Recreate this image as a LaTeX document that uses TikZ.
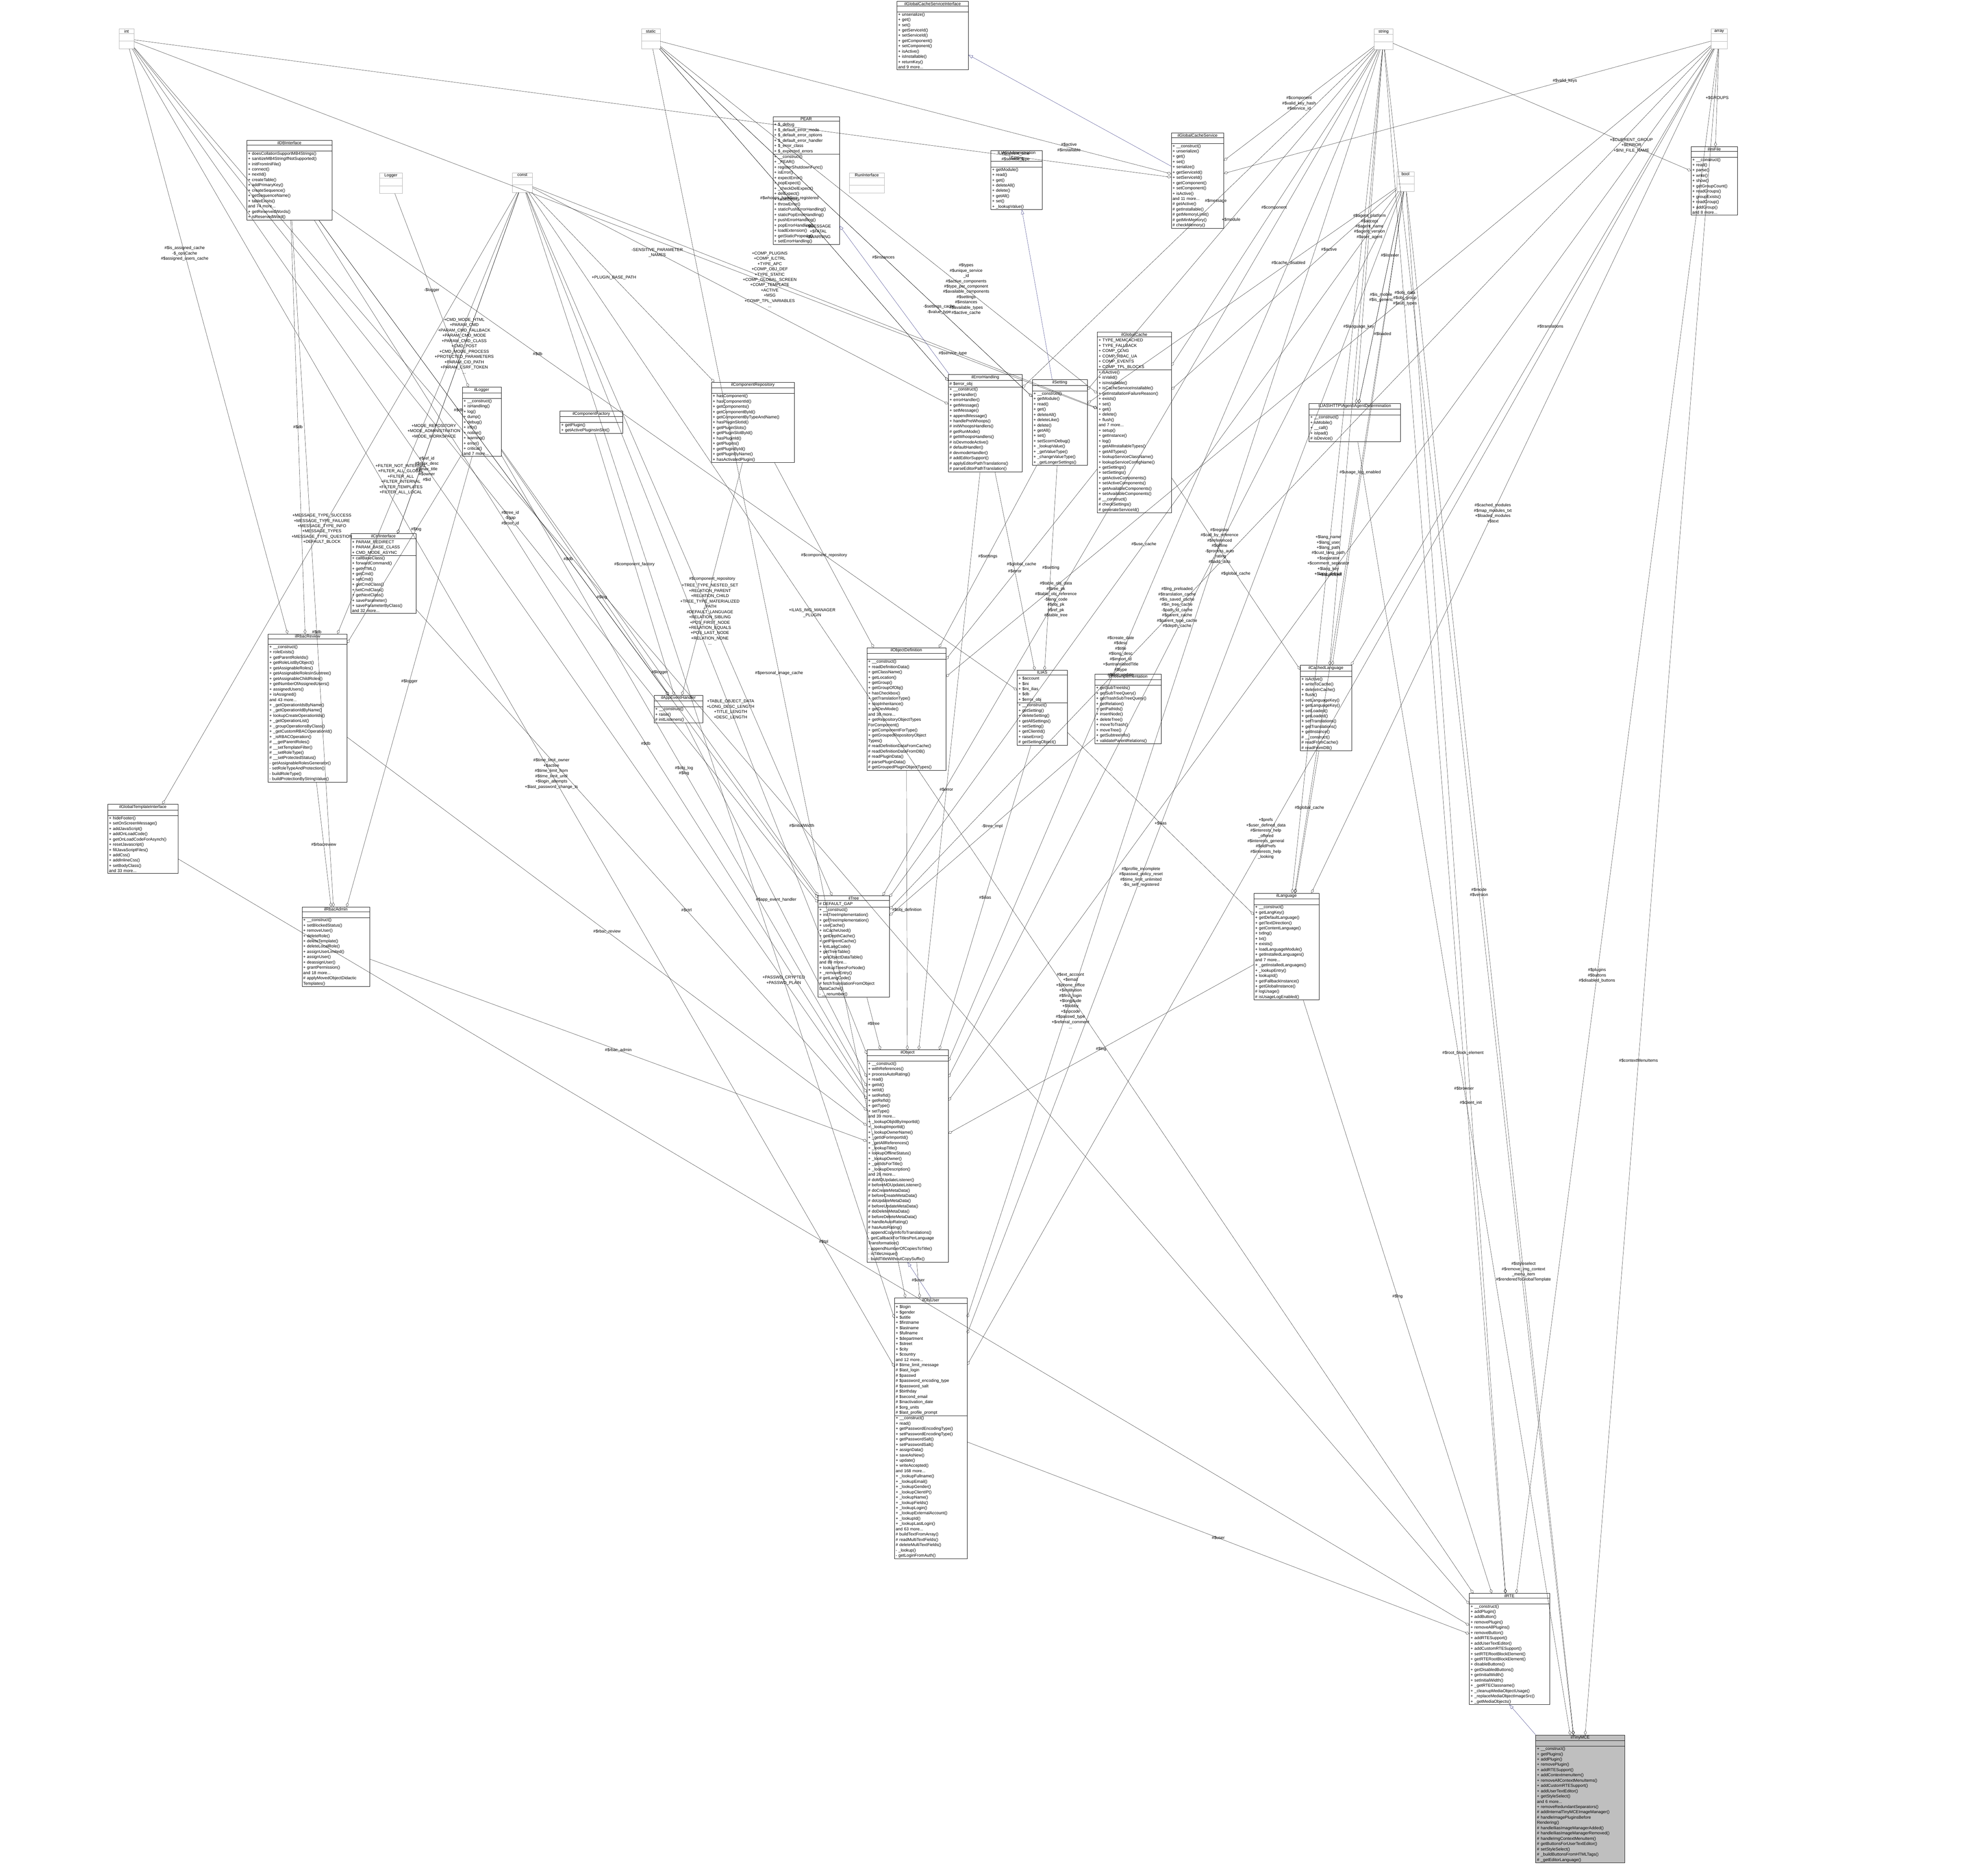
\documentclass[tikz,border=0pt]{standalone}
\usepackage{fontspec}
\setmainfont{Liberation Sans}
\usetikzlibrary{shapes.multipart,arrows.meta}

% one class box: name, x, y, width, title, attributes, methods
\newcommand{\umlclass}[7][]{%
  \node[umlbox,text width=#4 mm-2mm,#1] (#2) at (#3) {\centering #5\par
    \nodepart{two}\rule{0pt}{3.2mm}#6
    \nodepart{three}#7};}
\newcommand{\primbox}[3]{%
  \node[primbox,text width=#3 mm-1mm] (#1) at (#2) {\centering #1\par
    \nodepart{two}\rule{0pt}{5mm}\nodepart{three}\rule{0pt}{5mm}};}

\begin{document}
\begin{tikzpicture}[x=1mm,y=-1mm,font=\fontsize{9.5}{12}\selectfont,
  umlbox/.style={rectangle split,rectangle split parts=3,draw,fill=white,anchor=north west,
    align=left,inner xsep=1mm,inner ysep=0.6mm,line width=0.5pt},
  primbox/.style={rectangle split,rectangle split parts=3,draw=gray!60,fill=white,anchor=north west,
    align=left,inner xsep=0.5mm,inner ysep=0.5mm},
  agg/.style={-{Diamond[open,length=3.5mm,width=2.2mm]},line width=0.4pt},
  inh/.style={-{Triangle[open,length=3.5mm,width=2.5mm]},draw={rgb,255:red,25;green,25;blue,112},line width=0.4pt},
  lbl/.style={align=center,inner sep=0.5pt}]
\useasboundingbox (0,0) rectangle (1568,1497.7);

%primitive types
\primbox{int}{95,23}{12}
\primbox{static}{512,23}{15}
\primbox{string}{1097,23}{15}
\primbox{array}{1366,23}{13}
\primbox{bool}{1115,137}{14}
\primbox{const}{409,138}{16}
\primbox{Logger}{303,138}{18}
\primbox{RunInterface}{678,138}{28}

%top
\umlclass{cacheif}{716,1}{57}{ilGlobalCacheServiceInterface}{}{+ unserialize()\\+ get()\\+ set()\\+ getServiceId()\\+ setServiceId()\\+ getComponent()\\+ setComponent()\\+ isActive()\\+ isInstallable()\\+ returnKey()\\and 9 more...}
\umlclass{dbif}{197,112}{68}{ilDBInterface}{}{+ doesCollationSupportMB4Strings()\\+ sanitizeMB4StringIfNotSupported()\\+ initFromIniFile()\\+ connect()\\+ nextId()\\+ createTable()\\+ addPrimaryKey()\\+ createSequence()\\+ getSequenceName()\\+ tableExists()\\and 74 more...\\+ getReservedWords()\\+ isReservedWord()}
\umlclass{pear}{617,93}{53}{PEAR}{+ \$\_debug\\+ \$\_default\_error\_mode\\+ \$\_default\_error\_options\\+ \$\_default\_error\_handler\\+ \$\_error\_class\\+ \$\_expected\_errors}{+ \_\_construct()\\+ \_PEAR()\\+ registerShutdownFunc()\\+ isError()\\+ expectError()\\+ popExpect()\\+ \_checkDelExpect()\\+ delExpect()\\+ raiseError()\\+ throwError()\\+ staticPushErrorHandling()\\+ staticPopErrorHandling()\\+ pushErrorHandling()\\+ popErrorHandling()\\+ loadExtension()\\+ getStaticProperty()\\+ setErrorHandling()}
\umlclass{cachesrv}{935,106}{42}{ilGlobalCacheService}{}{+ \_\_construct()\\+ unserialize()\\+ get()\\+ set()\\+ serialize()\\+ getServiceId()\\+ setServiceId()\\+ getComponent()\\+ setComponent()\\+ isActive()\\and 11 more...\\\# getActive()\\\# getInstallable()\\\# getMemoryLimit()\\\# getMinMemory()\\\# checkMemory()}
\umlclass{admsetting}{791,120}{41}{ILIAS\textbackslash Administration\\\textbackslash Setting}{}{+ getModule()\\+ read()\\+ get()\\+ deleteAll()\\+ delete()\\+ getAll()\\+ set()\\+ \_lookupValue()}
\umlclass{inifile}{1350,117}{37}{ilIniFile}{}{+ \_\_construct()\\+ read()\\+ parse()\\+ write()\\+ show()\\+ getGroupCount()\\+ readGroups()\\+ groupExists()\\+ readGroup()\\+ addGroup()\\and 8 more...}

%second row
\umlclass{logger}{369,309}{31}{ilLogger}{}{+ \_\_construct()\\+ isHandling()\\+ log()\\+ dump()\\+ debug()\\+ info()\\+ notice()\\+ warning()\\+ error()\\+ critical()\\and 7 more...}
\umlclass{compfactory}{447,328}{50}{ilComponentFactory}{}{+ getPlugin()\\+ getActivePluginsInSlot()}
\umlclass{comprepo}{568,305}{66}{ilComponentRepository}{}{+ hasComponent()\\+ hasComponentId()\\+ getComponents()\\+ getComponentById()\\+ getComponentByTypeAndName()\\+ hasPluginSlotId()\\+ getPluginSlots()\\+ getPluginSlotById()\\+ hasPluginId()\\+ getPlugins()\\+ getPluginById()\\+ getPluginByName()\\+ hasActivatedPlugin()}
\umlclass{errhandling}{757,299}{59}{ilErrorHandling}{\# \$error\_obj}{+ \_\_construct()\\+ getHandler()\\+ errorHandler()\\+ getMessage()\\+ setMessage()\\+ appendMessage()\\+ handlePreWhoops()\\\# initWhoopsHandlers()\\\# getRunMode()\\\# getWhoopsHandlers()\\\# isDevmodeActive()\\\# defaultHandler()\\\# devmodeHandler()\\\# addEditorSupport()\\\# applyEditorPathTranslations()\\\# parseEditorPathTranslation()}
\umlclass{setting}{824,303}{44}{ilSetting}{}{+ \_\_construct()\\+ getModule()\\+ read()\\+ get()\\+ deleteAll()\\+ deleteLike()\\+ delete()\\+ getAll()\\+ set()\\+ setScormDebug()\\+ \_lookupValue()\\+ \_getValueType()\\+ \_changeValueType()\\+ \_getLongerSettings()}
\umlclass{globalcache}{876,265}{59}{ilGlobalCache}{+ TYPE\_MEMCACHED\\+ TYPE\_FALLBACK\\+ COMP\_CLNG\\+ COMP\_RBAC\_UA\\+ COMP\_EVENTS\\+ COMP\_TPL\_BLOCKS}{+ isActive()\\+ isValid()\\+ isInstallable()\\+ isCacheServiceInstallable()\\+ getInstallationFailureReason()\\+ exists()\\+ set()\\+ get()\\+ delete()\\+ flush()\\and 7 more...\\+ setup()\\+ getInstance()\\+ log()\\+ getAllInstallableTypes()\\+ getAllTypes()\\+ lookupServiceClassName()\\+ lookupServiceConfigName()\\+ getSettings()\\+ setSettings()\\+ getActiveComponents()\\+ setActiveComponents()\\+ getAvailableComponents()\\+ setAvailableComponents()\\\# \_\_construct()\\\# checkSettings()\\\# generateServiceId()}
\umlclass{agentdet}{1045,322}{73}{ILIAS\textbackslash HTTP\textbackslash Agent\textbackslash AgentDetermination}{}{+ \_\_construct()\\+ isMobile()\\+ \_\_call()\\+ isIpad()\\\# isDevice()}

%middle
\umlclass{ctrlif}{280,426}{52}{ilCtrlInterface}{+ PARAM\_REDIRECT\\+ PARAM\_BASE\_CLASS\\+ CMD\_MODE\_ASYNC}{+ callBaseClass()\\+ forwardCommand()\\+ getHTML()\\+ getCmd()\\+ setCmd()\\+ getCmdClass()\\+ setCmdClass()\\+ getNextClass()\\+ saveParameter()\\+ saveParameterByClass()\\and 32 more...}
\umlclass{rbacreview}{214,506}{63}{ilRbacReview}{}{+ \_\_construct()\\+ roleExists()\\+ getParentRoleIds()\\+ getRoleListByObject()\\+ getAssignableRoles()\\+ getAssignableRolesInSubtree()\\+ getAssignableChildRoles()\\+ getNumberOfAssignedUsers()\\+ assignedUsers()\\+ isAssigned()\\and 43 more...\\+ \_getOperationIdsByName()\\+ \_getOperationIdByName()\\+ lookupCreateOperationIds()\\+ \_getOperationList()\\+ \_groupOperationsByClass()\\+ \_getCustomRBACOperationId()\\+ \_isRBACOperation()\\\# \_\_getParentRoles()\\\# \_\_setTemplateFilter()\\\# \_\_setRoleType()\\\# \_\_setProtectedStatus()\\- getAssignableRolesGenerator()\\- setRoleTypeAndProtection()\\- buildRoleType()\\- buildProtectionByStringValue()}
\umlclass{tplif}{86,642}{56}{ilGlobalTemplateInterface}{}{+ hideFooter()\\+ setOnScreenMessage()\\+ addJavaScript()\\+ addOnLoadCode()\\+ getOnLoadCodeForAsynch()\\+ resetJavascript()\\+ fillJavaScriptFiles()\\+ addCss()\\+ addInlineCss()\\+ setBodyClass()\\and 33 more...}
\umlclass{rbacadmin}{241,724}{54}{ilRbacAdmin}{}{+ \_\_construct()\\+ setBlockedStatus()\\+ removeUser()\\+ deleteRole()\\+ deleteTemplate()\\+ deleteLocalRole()\\+ assignUserLimited()\\+ assignUser()\\+ deassignUser()\\+ grantPermission()\\and 18 more...\\\# applyMovedObjectDidactic\\Templates()}
\umlclass{eventhandler}{522,555}{39}{ilAppEventHandler}{}{+ \_\_construct()\\+ raise()\\\# initListeners()}
\umlclass{objdef}{692,517}{63}{ilObjectDefinition}{}{+ \_\_construct()\\+ readDefinitionData()\\+ getClassName()\\+ getLocation()\\+ getGroup()\\+ getGroupOfObj()\\+ hasCheckbox()\\+ getTranslationType()\\+ stopInheritance()\\+ getDevMode()\\and 38 more...\\+ getRepositoryObjectTypes\\ForComponent()\\+ getComponentForType()\\+ getGroupedRepositoryObject\\Types()\\\# readDefinitionDataFromCache()\\\# readDefinitionDataFromDB()\\\# readPluginData()\\\# parsePluginData()\\\# getGroupedPluginObjectTypes()}
\umlclass{ilias}{812,535}{40}{ILIAS}{+ \$account\\+ \$ini\\+ \$ini\_ilias\\+ \$db\\+ \$error\_obj}{+ \_\_construct()\\+ getSetting()\\+ deleteSetting()\\+ getAllSettings()\\+ setSetting()\\+ getClientId()\\+ raiseError()\\\# getSettingObject()}
\umlclass{treeimpl}{874,538}{53}{ilTreeImplementation}{}{+ getSubTreeIds()\\+ getSubTreeQuery()\\+ getTrashSubTreeQuery()\\+ getRelation()\\+ getPathIds()\\+ insertNode()\\+ deleteTree()\\+ moveToTrash()\\+ moveTree()\\+ getSubtreeInfo()\\+ validateParentRelations()}
\umlclass{cachedlang}{1038,531}{41}{ilCachedLanguage}{}{+ isActive()\\+ writeToCache()\\+ deleteInCache()\\+ flush()\\+ setLanguageKey()\\+ getLanguageKey()\\+ setLoaded()\\+ getLoaded()\\+ setTranslations()\\+ getTranslations()\\+ getInstance()\\\# \_\_construct()\\\# readFromCache()\\\# readFromDB()}
\umlclass{tree}{653,715}{57}{ilTree}{\# DEFAULT\_GAP}{+ \_\_construct()\\+ initTreeImplementation()\\+ getTreeImplementation()\\+ useCache()\\+ isCacheUsed()\\+ getDepthCache()\\+ getParentCache()\\+ initLangCode()\\+ getTreeTable()\\+ getObjectDataTable()\\and 89 more...\\+ lookupTreesForNode()\\+ \_removeEntry()\\\# getLangCode()\\\# fetchTranslationFromObject\\DataCache()\\- \_\_renumber()}
\umlclass{language}{1001,713}{52}{ilLanguage}{}{+ \_\_construct()\\+ getLangKey()\\+ getDefaultLanguage()\\+ getTextDirection()\\+ getContentLanguage()\\+ txtlng()\\+ txt()\\+ exists()\\+ loadLanguageModule()\\+ getInstalledLanguages()\\and 7 more...\\+ \_getInstalledLanguages()\\+ \_lookupEntry()\\+ lookupId()\\+ getFallbackInstance()\\+ getGlobalInstance()\\\# logUsage()\\\# isUsageLogEnabled()}

%bottom
\umlclass{object}{692,838}{65}{ilObject}{}{+ \_\_construct()\\+ withReferences()\\+ processAutoRating()\\+ read()\\+ getId()\\+ setId()\\+ setRefId()\\+ getRefId()\\+ getType()\\+ setType()\\and 39 more...\\+ \_lookupObjIdByImportId()\\+ \_lookupImportId()\\+ \_lookupOwnerName()\\+ \_getIdForImportId()\\+ \_getAllReferences()\\+ \_lookupTitle()\\+ lookupOfflineStatus()\\+ \_lookupOwner()\\+ \_getIdsForTitle()\\+ \_lookupDescription()\\and 26 more...\\\# doMDUpdateListener()\\\# beforeMDUpdateListener()\\\# doCreateMetaData()\\\# beforeCreateMetaData()\\\# doUpdateMetaData()\\\# beforeUpdateMetaData()\\\# doDeleteMetaData()\\\# beforeDeleteMetaData()\\\# handleAutoRating()\\\# hasAutoRating()\\- appendCopyInfoToTranslations()\\- getCallbackForTitlesPerLanguage\\Transformation()\\- appendNumberOfCopiesToTitle()\\- isTitleUnique()\\- buildTitleWithoutCopySuffix()}
\umlclass{objuser}{714,1036}{58}{ilObjUser}{+ \$login\\+ \$gender\\+ \$utitle\\+ \$firstname\\+ \$lastname\\+ \$fullname\\+ \$department\\+ \$street\\+ \$city\\+ \$country\\and 12 more...\\\# \$time\_limit\_message\\\# \$last\_login\\\# \$passwd\\\# \$password\_encoding\_type\\\# \$password\_salt\\\# \$birthday\\\# \$second\_email\\\# \$inactivation\_date\\\# \$org\_units\\\# \$last\_profile\_prompt}{+ \_\_construct()\\+ read()\\+ getPasswordEncodingType()\\+ setPasswordEncodingType()\\+ getPasswordSalt()\\+ setPasswordSalt()\\+ assignData()\\+ saveAsNew()\\+ update()\\+ writeAccepted()\\and 168 more...\\+ \_lookupFullname()\\+ \_lookupEmail()\\+ \_lookupGender()\\+ \_lookupClientIP()\\+ \_lookupName()\\+ \_lookupFields()\\+ \_lookupLogin()\\+ \_lookupExternalAccount()\\+ \_lookupId()\\+ \_lookupLastLogin()\\and 63 more...\\\# buildTextFromArray()\\\# readMultiTextFields()\\\# deleteMultiTextFields()\\- \_lookup()\\- getLoginFromAuth()}
\umlclass{rte}{1173,1272}{64}{ilRTE}{}{+ \_\_construct()\\+ addPlugin()\\+ addButton()\\+ removePlugin()\\+ removeAllPlugins()\\+ removeButton()\\+ addRTESupport()\\+ addUserTextEditor()\\+ addCustomRTESupport()\\+ setRTERootBlockElement()\\+ getRTERootBlockElement()\\+ disableButtons()\\+ getDisabledButtons()\\+ getInitialWidth()\\+ setInitialWidth()\\+ \_getRTEClassname()\\+ \_cleanupMediaObjectUsage()\\+ \_replaceMediaObjectImageSrc()\\+ \_getMediaObjects()}
\umlclass[fill=gray!50]{tinymce}{1226,1385}{71}{ilTinyMCE}{}{+ \_\_construct()\\+ getPlugins()\\+ addPlugin()\\+ removePlugin()\\+ addRTESupport()\\+ addContextmenuItem()\\+ removeAllContextMenuItems()\\+ addCustomRTESupport()\\+ addUserTextEditor()\\+ getStyleSelect()\\and 6 more...\\+ removeRedundantSeparators()\\\# addInternalTinyMCEImageManager()\\\# handleImagePluginsBefore\\Rendering()\\\# handleIliasImageManagerAdded()\\\# handleIliasImageManagerRemoved()\\\# handleImgContextMenuItem()\\\# getButtonsForUserTextEditor()\\\# setStyleSelect()\\\# \_buildButtonsFromHTMLTags()\\\# \_getEditorLanguage()}

%inheritance
\draw[inh] (cachesrv) -- (cacheif);
\draw[inh] (errhandling) -- (pear);
\draw[inh] (setting) -- (admsetting);
\draw[inh] (objuser.north) -- (object.south);
\draw[inh] (tinymce.north west) -- (rte.south);

%usage
\begin{scope}[every path/.style={agg}]
\draw (int) -- node[lbl,pos=0.85]{\#\$current\_time\\\#\$service\_type} (cachesrv);
\draw (static) -- node[lbl,pos=0.8]{\#\$active\\\#\$installable} (cachesrv);
\draw (string) -- node[lbl,pos=0.5]{\#\$component\\\#\$valid\_key\_hash\\\#\$service\_id} (cachesrv);
\draw (array) -- node[lbl,pos=0.3]{\#\$valid\_keys} (cachesrv);
\draw (array) -- node[lbl]{+\$GROUPS} (inifile);
\draw (string) -- node[lbl,pos=0.8]{+\$CURRENT\_GROUP\\+\$ERROR\\+\$INI\_FILE\_NAME} (inifile);
\draw (static) -- node[lbl,pos=0.55]{+\$MESSAGE\\+\$FATAL\\+\$WARNING} (errhandling);
\draw (static) -- node[lbl,pos=0.45]{\#\$whoops\_handlers\_registered} (errhandling);
\draw (string) -- node[lbl,pos=0.45]{\#\$message} (errhandling);
\draw (string) -- node[lbl,pos=0.5]{+\$module} (setting);
\draw (string) -- node[lbl,pos=0.5]{\#\$component} (globalcache);
\draw (static) -- node[lbl,pos=0.7]{\#\$types\\\#\$unique\_service\\\_id\\\#\$active\_components\\\#\$type\_per\_component\\\#\$available\_components\\\#\$settings\\\#\$instances\\\#\$available\_types\\\#\$active\_cache} (globalcache);
\draw (int) -- node[lbl,pos=0.85]{\#\$service\_type} (globalcache);
\draw (static) -- node[lbl,pos=0.75]{-\$settings\_cache\\-\$value\_type} (setting);
\draw (bool) -- node[lbl,pos=0.3]{\#\$active} (globalcache);
\draw (bool) -- node[lbl,pos=0.35]{\#\$cache\_disabled} (setting);
\draw (bool) -- node[lbl,pos=0.5]{\#\$is\_mobile\\\#\$is\_generic} (agentdet);
\draw (string) -- node[lbl,pos=0.5]{\#\$agent\_platform\\\#\$accept\\\#\$agent\_name\\\#\$agent\_version\\\#\$user\_agent} (agentdet);
\draw (const) -- node[lbl,pos=0.45]{+CMD\_MODE\_HTML\\+PARAM\_CMD\\+PARAM\_CMD\_FALLBACK\\+PARAM\_CMD\_MODE\\+PARAM\_CMD\_CLASS\\+CMD\_POST\\+CMD\_MODE\_PROCESS\\+PROTECTED\_PARAMETERS\\+PARAM\_CID\_PATH\\+PARAM\_CSRF\_TOKEN\\...} (ctrlif);
\draw (Logger) -- node[lbl,pos=0.5]{-\$logger} (logger);
\draw (const) -- node[lbl,pos=0.45]{+PLUGIN\_BASE\_PATH} (comprepo);
\draw (const) -- node[lbl,pos=0.3]{-SENSITIVE\_PARAMETER\\\_NAMES} (errhandling);
\draw (const) -- node[lbl,pos=0.42]{+COMP\_PLUGINS\\+COMP\_ILCTRL\\+TYPE\_APC\\+COMP\_OBJ\_DEF\\+TYPE\_STATIC\\+COMP\_GLOBAL\_SCREEN\\+COMP\_TEMPLATE\\+ACTIVE\\+MSG\\+COMP\_TPL\_VARIABLES\\...} (globalcache);
\draw (const) -- node[lbl,pos=0.55]{+MESSAGE\_TYPE\_SUCCESS\\+MESSAGE\_TYPE\_FAILURE\\+MESSAGE\_TYPE\_INFO\\+MESSAGE\_TYPES\\+MESSAGE\_TYPE\_QUESTION\\+DEFAULT\_BLOCK} (tplif);
\draw (const) -- node[lbl,pos=0.65]{+FILTER\_NOT\_INTERNAL\\+FILTER\_ALL\_GLOBAL\\+FILTER\_ALL\\+FILTER\_INTERNAL\\+FILTER\_TEMPLATES\\+FILTER\_ALL\_LOCAL} (rbacreview);
\draw (const) -- node[lbl,pos=0.7]{+MODE\_REPOSITORY\\+MODE\_ADMINISTRATION\\+MODE\_WORKSPACE} (ctrlif);
\draw (const) -- node[lbl,pos=0.6]{+TREE\_TYPE\_NESTED\_SET\\+RELATION\_PARENT\\+RELATION\_CHILD\\+TREE\_TYPE\_MATERIALIZED\\\_PATH\\\#DEFAULT\_LANGUAGE\\+RELATION\_SIBLING\\+POS\_FIRST\_NODE\\+RELATION\_EQUALS\\+POS\_LAST\_NODE\\+RELATION\_NONE\\...} (tree);
\draw (const) -- node[lbl,pos=0.6]{+TABLE\_OBJECT\_DATA\\+LONG\_DESC\_LENGTH\\+TITLE\_LENGTH\\+DESC\_LENGTH} (object);
\draw (const) -- node[lbl,pos=0.7]{+PASSWD\_CRYPTED\\+PASSWD\_PLAIN} (objuser);
\draw (const) -- node[lbl,pos=0.3]{+ILIAS\_IMG\_MANAGER\\\_PLUGIN} (rte);
\draw (int) -- node[lbl,pos=0.35]{\#\$is\_assigned\_cache\\-\$\_opsCache\\\#\$assigned\_users\_cache} (rbacreview);
\draw (dbif) -- node[lbl,pos=0.5]{\#\$db} (rbacreview);
\draw (dbif) -- node[lbl,pos=0.6]{\#\$db} (rbacadmin);
\draw (dbif) -- node[lbl,pos=0.5]{\#\$db} (tree);
\draw (dbif) -- node[lbl,pos=0.4]{\#\$db} (eventhandler);
\draw (dbif) -- node[lbl,pos=0.6]{\#\$db} (object);
\draw (dbif) -- node[lbl,pos=0.3]{\#\$db} (ilias);
\draw (logger) -- node[lbl,pos=0.4]{\#\$log} (rbacreview);
\draw (logger) -- node[lbl,pos=0.6]{\#\$log} (eventhandler);
\draw (logger) -- node[lbl,pos=0.5]{\#\$logger} (tree);
\draw (logger) -- node[lbl,pos=0.5]{\#\$logger} (rbacadmin);
\draw (logger) -- node[lbl,pos=0.5]{\#\$obj\_log\\\#\$log} (object);
\draw (compfactory) -- node[lbl,pos=0.5]{\#\$component\_factory} (eventhandler);
\draw (comprepo) -- node[lbl,pos=0.5]{\#\$component\_repository} (eventhandler);
\draw (comprepo) -- node[lbl,pos=0.5]{\#\$component\_repository} (objdef);
\draw (errhandling) -- node[lbl,pos=0.5]{\#\$error} (ilias);
\draw (errhandling) -- node[lbl,pos=0.55]{\#\$error} (object);
\draw (setting) -- node[lbl,pos=0.5]{\#\$setting} (ilias);
\draw (setting) -- node[lbl,pos=0.5]{\#\$settings} (objdef);
\draw (globalcache) -- node[lbl,pos=0.5]{\#\$global\_cache} (objdef);
\draw (globalcache) -- node[lbl,pos=0.5]{\#\$global\_cache} (cachedlang);
\draw (cachedlang) -- node[lbl,pos=0.4]{\#\$global\_cache} (language);
\draw (rbacreview) -- node[lbl,pos=0.5]{\#\$rbacreview} (rbacadmin);
\draw (rbacreview) -- node[lbl,pos=0.5]{\#\$rbac\_review} (object);
\draw (rbacadmin) -- node[lbl,pos=0.5]{\#\$rbac\_admin} (object);
\draw (ctrlif) -- node[lbl,pos=0.6]{\#\$ctrl} (object);
\draw (eventhandler) -- node[lbl,pos=0.5]{\#\$app\_event\_handler} (object);
\draw (objdef) -- node[lbl,pos=0.5]{\#\$obj\_definition} (object);
\draw (tree) -- node[lbl,pos=0.5]{\#\$tree} (object);
\draw (treeimpl) -- node[lbl,pos=0.5]{-\$tree\_impl} (tree);
\draw (ilias) -- node[lbl,pos=0.5]{\#\$ilias} (object);
\draw (ilias) -- node[lbl,pos=0.5]{+\$ilias} (language);
\draw (language) -- node[lbl,pos=0.5]{\#\$lng} (object);
\draw (language) -- node[lbl,pos=0.5]{\#\$lng} (rte);
\draw (object) -- node[lbl,pos=0.5]{\#\$user} (objuser);
\draw (objuser) -- node[lbl,pos=0.5]{\#\$user} (rte);
\draw (tplif) -- node[lbl,pos=0.5]{\#\$tpl} (rte);
\draw (int) -- node[lbl,pos=0.5]{\#\$initialWidth} (rte);
\draw (int) -- node[lbl,pos=0.4]{\#\$ref\_id\\\#\$max\_desc\\\#\$max\_title\\\#\$owner\\\#\$id} (object);
\draw (int) -- node[lbl,pos=0.55]{\#\$tree\_id\\-\$gap\\\#\$root\_id} (tree);
\draw (int) -- node[lbl,pos=0.55]{\#\$time\_limit\_owner\\+\$active\\\#\$time\_limit\_from\\\#\$time\_limit\_until\\+\$login\_attempts\\+\$last\_password\_change\_ts} (objuser);
\draw (static) -- node[lbl,pos=0.5]{\#\$personal\_image\_cache} (objuser);
\draw (string) -- node[lbl,pos=0.6]{\#\$create\_date\\\#\$desc\\\#\$title\\\#\$long\_desc\\\#\$import\_id\\+\$untranslatedTitle\\\#\$type\\\#\$last\_update} (object);
\draw (string) -- node[lbl,pos=0.75]{\#\$ext\_account\\+\$email\\+\$phone\_office\\+\$institution\\\#\$first\_login\\+\$longitude\\+\$hobby\\+\$zipcode\\\#\$passwd\_type\\+\$referral\_comment\\...} (objuser);
\draw (array) -- node[lbl,pos=0.6]{+\$prefs\\+\$user\_defined\_data\\\#\$interests\_help\\\_offered\\\#\$interests\_general\\\#\$oldPrefs\\\#\$interests\_help\\\_looking} (objuser);
\draw (string) -- node[lbl,pos=0.65]{\#\$table\_obj\_data\\\#\$tree\_pk\\\#\$table\_obj\_reference\\-\$lang\_code\\\#\$obj\_pk\\\#\$ref\_pk\\\#\$table\_tree} (tree);
\draw (string) -- node[lbl,pos=0.6]{+\$lang\_name\\+\$lang\_user\\+\$lang\_path\\\#\$cust\_lang\_path\\+\$separator\\+\$comment\_separator\\+\$lang\_key\\+\$lang\_default} (language);
\draw (array) -- node[lbl,pos=0.65]{\#\$lng\_preloaded\\\#\$translation\_cache\\\#\$is\_saved\_cache\\\#\$in\_tree\_cache\\-\$path\_id\_cache\\\#\$parent\_cache\\\#\$parent\_type\_cache\\\#\$depth\_cache} (tree);
\draw (array) -- node[lbl,pos=0.55]{\#\$cached\_modules\\\#\$map\_modules\_txt\\+\$loaded\_modules\\+\$text} (language);
\draw (array) -- node[lbl,pos=0.45]{\#\$translations} (cachedlang);
\draw (string) -- node[lbl,pos=0.45]{\#\$language\_key} (cachedlang);
\draw (bool) -- node[lbl,pos=0.3]{\#\$loaded} (cachedlang);
\draw (bool) -- node[lbl,pos=0.3]{\#\$listener} (agentdet);
\draw (array) -- node[lbl,pos=0.4]{\#\$obj\_data\\\#\$obj\_group\\\#\$sub\_types} (objdef);
\draw (bool) -- node[lbl,pos=0.4]{\#\$register\\\#\$call\_by\_reference\\\#\$referenced\\\#\$offline\\-\$process\_auto\\\_rating\\\#\$add\_dots} (object);
\draw (bool) -- node[lbl,pos=0.4]{\#\$usage\_log\_enabled} (language);
\draw (bool) -- node[lbl,pos=0.5]{\#\$use\_cache} (tree);
\draw (bool) -- node[lbl,pos=0.6]{\#\$profile\_incomplete\\\#\$passwd\_policy\_reset\\\#\$time\_limit\_unlimited\\-\$is\_self\_registered} (objuser);
\draw (bool) -- node[lbl,pos=0.7]{\#\$styleselect\\\#\$remove\_img\_context\\\_menu\_item\\\#\$renderedToGlobalTemplate} (tinymce);
\draw (agentdet) -- node[lbl,pos=0.5]{\#\$browser} (tinymce);
\draw (string) -- node[lbl,pos=0.65]{\#\$root\_block\_element} (rte);
\draw (bool) -- node[lbl,pos=0.65]{\#\$client\_init} (rte);
\draw (array) -- node[lbl,pos=0.6]{\#\$plugins\\\#\$buttons\\\#\$disabled\_buttons} (rte);
\draw (array) -- node[lbl,pos=0.6]{\#\$contextMenuItems} (tinymce);
\draw (array) -- node[lbl,pos=0.5]{+\$objectList} (object);
\draw (string) -- node[lbl,pos=0.5]{\#\$mode\\\#\$version} (tinymce);
\draw (static) -- node[lbl,pos=0.6]{\#\$instances} (setting);
\end{scope}
\end{tikzpicture}
\end{document}
